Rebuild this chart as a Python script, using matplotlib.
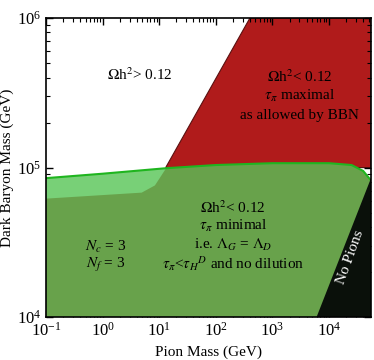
import matplotlib
matplotlib.use("Agg")
import matplotlib.pyplot as plt

plt.rcParams["font.family"] = ["Liberation Serif", "DejaVu Serif"]
plt.rcParams["mathtext.fontset"] = "stix"

# axis range
x_min, x_max = 0.1, 5.5e4
y_min, y_max = 1e4, 1e6

# red region (tau_pi maximal): diagonal edge then right side
red_x = [13, 400, x_max, x_max, 13]
red_y = [1e5, 1e6, 1e6, 1e5, 1e5]

# green top boundary (relic abundance line)
green_x = [0.1, 1, 13, 100, 1000, 1e4, 2.5e4, 4e4, x_max]
green_y = [8.5e4, 9.1e4, 9.9e4, 1.04e5, 1.07e5, 1.07e5, 1.04e5, 9.5e4, 8.2e4]

# lower edge of the light green band
light_x = [0.1, 4.9, 8.4, 13]
light_y = [6.2e4, 6.8e4, 7.6e4, 9.8e4]

# no pions region
black_x = [6000, x_max, x_max]
black_y = [1e4, 8.5e4, 1e4]

fig = plt.figure(figsize=(3.74, 3.6), dpi=100)
ax = fig.add_axes([0.123, 0.119, 0.869, 0.831])
ax.set_xscale("log")
ax.set_yscale("log")
ax.set_xlim(x_min, x_max)
ax.set_ylim(y_min, y_max)

ax.fill(red_x, red_y, color="#b01b1b", edgecolor="#5a1010", lw=0.8, zorder=1)

# dark green everything below the line
gx = green_x + [x_max, 0.1]
gy = green_y + [y_min, y_min]
ax.fill(gx, gy, color="#68a24b", lw=0, zorder=2)

# light green band on the left
lx = [x for x in green_x if x <= 13] + light_x[::-1]
ly = [y for x, y in zip(green_x, green_y) if x <= 13] + light_y[::-1]
ax.fill(lx, ly, color="#78d077", lw=0, zorder=3)

ax.plot(green_x, green_y, color="#1fb51f", lw=1.5, zorder=4)

ax.fill(black_x, black_y, color="#0a100a", lw=0, zorder=5)

fs = 11
ax.text(4.6, 10**5.62, r"$\Omega$h$^2$> 0.12", ha="center", va="center", fontsize=fs, zorder=6)
ax.text(3000, 10**5.61, r"$\Omega$h$^2$< 0.12", ha="center", va="center", fontsize=fs, zorder=6)
ax.text(3000, 10**5.48, r"$\tau_\pi$ maximal", ha="center", va="center", fontsize=fs, zorder=6)
ax.text(3000, 10**5.35, "as allowed by BBN", ha="center", va="center", fontsize=fs, zorder=6)

ax.text(200, 10**4.73, r"$\Omega$h$^2$< 0.12", ha="center", va="center", fontsize=fs, zorder=6)
ax.text(200, 10**4.61, r"$\tau_\pi$ minimal", ha="center", va="center", fontsize=fs, zorder=6)
ax.text(200, 10**4.48, r"i.e. $\Lambda_G$ = $\Lambda_D$", ha="center", va="center", fontsize=fs, zorder=6)
ax.text(200, 10**4.36, r"$\tau_\pi$<$\tau_H{}^D$ and no dilution", ha="center", va="center", fontsize=fs, zorder=6)

ax.text(1.15, 10**4.47, r"$N_c$ = 3", ha="center", va="center", fontsize=fs, zorder=6)
ax.text(1.15, 10**4.35, r"$N_f$ = 3", ha="center", va="center", fontsize=fs, zorder=6)

ax.text(2.4e4, 10**4.4, "No Pions", ha="center", va="center", fontsize=fs,
        color="white", rotation=70, zorder=6)

ax.set_xlabel("Pion Mass (GeV)", fontsize=fs)
ax.set_ylabel("Dark Baryon Mass (GeV)", fontsize=fs)
ax.yaxis.set_label_coords(-0.097, 0.5)
ax.tick_params(which="both", direction="in", top=True, right=True, labelsize=12)
ax.tick_params(which="major", length=5, width=1)
ax.tick_params(which="minor", length=3, width=0.8)
for s in ax.spines.values():
    s.set_linewidth(1.2)
    s.set_zorder(7)

fig.savefig("out.png", dpi=100)
